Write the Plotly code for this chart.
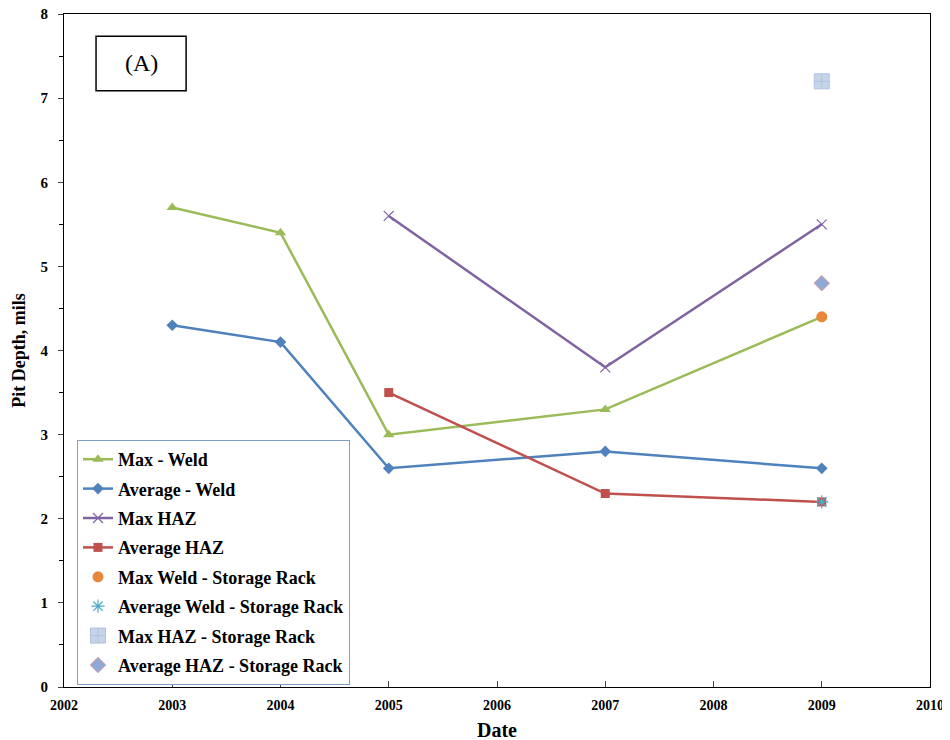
import plotly.graph_objects as go

years_weld = [2003, 2004, 2005, 2007, 2009]
max_weld = [5.7, 5.4, 3.0, 3.3, 4.4]
avg_weld = [4.3, 4.1, 2.6, 2.8, 2.6]
years_haz = [2005, 2007, 2009]
max_haz = [5.6, 3.8, 5.5]
avg_haz = [3.5, 2.3, 2.2]
rack_year = [2009]
max_weld_rack = [4.4]
avg_weld_rack = [2.2]
max_haz_rack = [7.2]
avg_haz_rack = [4.8]

FONT = "Liberation Serif"

fig = go.Figure()

def add(name, x, y, color, symbol, size, mode="lines+markers", mline=None, mcolor=None, lw=2.5):
    fig.add_trace(go.Scatter(
        x=x, y=y, name="<b>" + name + "</b>", mode=mode, legendgroup=name,
        line=dict(color=color, width=lw),
        marker=dict(symbol=symbol, size=size, color=mcolor or color,
                    line=mline or dict(width=0)),
    ))

add("Max - Weld", years_weld, max_weld, "#9BBB59", "triangle-up", 10)
add("Average - Weld", years_weld, avg_weld, "#4F81BD", "diamond", 9)
add("Max HAZ", years_haz, max_haz, "#8064A2", "x-thin", 10,
    mline=dict(width=1.2, color="#8064A2"))
add("Average HAZ", years_haz, avg_haz, "#C0504D", "square", 9)
add("Max Weld - Storage Rack", rack_year, max_weld_rack, "#E8873A", "circle", 11, mode="markers")
add("Average Weld - Storage Rack", rack_year, avg_weld_rack, "#4BACC6", "asterisk-open", 11, mode="markers",
    mline=dict(width=1.2, color="#4BACC6"))
add("Max HAZ - Storage Rack", rack_year, max_haz_rack, "#C6D4EA", "square-cross", 15, mode="markers",
    mline=dict(width=1, color="#AFC2E0"), mcolor="#C6D4EA")
add("Average HAZ - Storage Rack", rack_year, avg_haz_rack, "#8FA9D6", "diamond", 12, mode="markers",
    mline=dict(width=1, color="#E3A0A0"), mcolor="#8FA9D6")

fig.add_shape(type="rect", xref="paper", yref="paper",
              x0=0.037, x1=0.141, y0=0.886, y1=0.967,
              line=dict(color="black", width=1.5), fillcolor="white", layer="above")
fig.add_annotation(xref="paper", yref="paper", x=0.089, y=0.927, text="(A)",
                   xanchor="center", yanchor="middle",
                   showarrow=False, font=dict(family=FONT, size=24, color="black"))

fig.update_layout(
    width=950, height=740,
    margin=dict(l=56, r=28, t=6, b=61),
    plot_bgcolor="white", paper_bgcolor="white",
    font=dict(family=FONT, color="black"),
    showlegend=True,
    legend=dict(x=0.015, y=0.367, xanchor="left", yanchor="top",
                bgcolor="white", bordercolor="#7F9DC9", borderwidth=1,
                font=dict(family=FONT, size=18, color="black"),
                traceorder="grouped", tracegroupgap=3, itemwidth=30),
    xaxis=dict(range=[2002, 2010], dtick=1, tick0=2002, ticks="inside", ticklen=6,
               showline=True, linecolor="black", linewidth=1, mirror=True,
               showgrid=False, zeroline=False, automargin=False,
               tickfont=dict(family=FONT, size=14, color="black"),
               ticklabelstandoff=5, ticklabeloverflow="allow",
               title=dict(text="<b>Date</b>", font=dict(family=FONT, size=20), standoff=11),
               tickprefix="<b>", ticksuffix="</b>"),
    yaxis=dict(range=[0, 8], dtick=1, ticks="outside", ticklen=5,
               minor=dict(dtick=0.5, ticks="outside", ticklen=4, tickcolor="black"),
               showline=True, linecolor="black", linewidth=1, mirror=True,
               showgrid=False, zeroline=False, automargin=False,
               tickfont=dict(family=FONT, size=15, color="black"),
               ticklabelstandoff=7, ticklabeloverflow="allow",
               title=dict(text="<b>Pit Depth, mils</b>", font=dict(family=FONT, size=18), standoff=10),
               tickprefix="<b>", ticksuffix="</b>"),
)

fig.write_html("out.html")
